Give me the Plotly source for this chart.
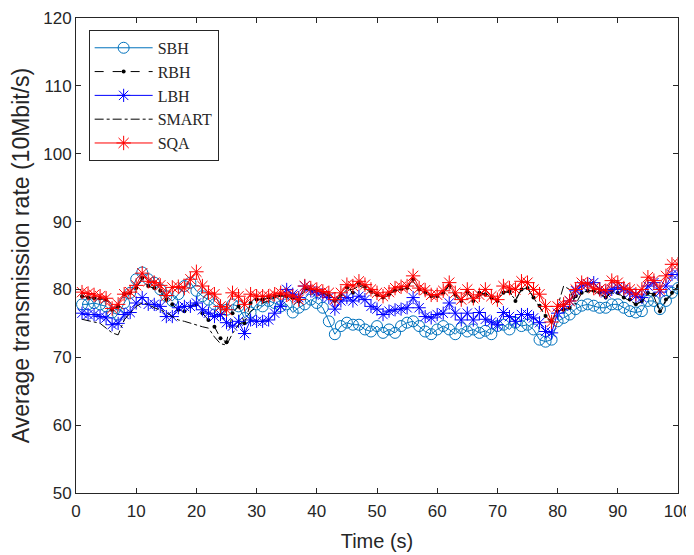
import plotly.graph_objects as go

t = list(range(1, 101))

sbh = [77.8, 77.8, 78.0, 77.8, 77.5, 76.6, 76.3, 78.0, 79.5, 81.5,
       82.5, 81.5, 81.0, 80.0, 79.0, 78.3, 79.3, 80.5, 81.0, 79.8,
       79.0, 78.5, 77.8, 77.0, 77.0, 77.8, 77.5, 75.8, 76.6, 77.8,
       77.5, 78.3, 78.0, 77.5, 77.8, 76.6, 77.3, 77.8, 78.5, 78.0,
       77.3, 75.3, 73.4, 74.6, 75.1, 74.8, 74.8, 74.1, 73.8, 74.6,
       73.6, 74.1, 73.6, 74.6, 75.1, 75.3, 74.6, 73.8, 73.4, 74.1,
       74.6, 74.1, 73.4, 74.3, 73.8, 74.1, 73.6, 73.9, 73.4, 74.6,
       74.8, 74.1, 75.1, 74.6, 74.8, 74.1, 72.6, 72.3, 72.6, 75.3,
       75.8, 76.3, 77.1, 77.6, 77.8, 77.6, 77.3, 77.3, 77.8, 77.8,
       77.3, 76.8, 76.6, 76.8, 78.3, 78.3, 77.1, 78.3, 79.5, 80.2]

rbh = [79.0, 78.8, 78.7, 78.7, 78.5, 77.0, 77.5, 79.3, 79.5, 80.2,
       81.7, 80.5, 80.2, 79.8, 78.5, 77.8, 77.0, 76.8, 77.5, 77.8,
       76.5, 75.5, 74.5, 72.8, 72.2, 76.5, 77.5, 75.0, 78.0, 78.5,
       78.5, 78.8, 79.0, 79.2, 79.0, 78.8, 78.3, 80.2, 80.0, 79.8,
       79.5, 79.2, 78.3, 79.2, 80.3, 79.5, 80.8, 80.4, 79.7, 79.2,
       78.8, 79.3, 79.9, 80.1, 80.2, 81.5, 80.0, 79.6, 79.0, 79.0,
       79.5, 80.6, 79.2, 78.3, 79.7, 78.3, 79.5, 79.3, 78.8, 78.3,
       79.5, 79.7, 78.3, 80.0, 80.2, 78.8, 77.6, 76.1, 75.3, 76.8,
       77.0, 77.3, 79.0, 79.5, 79.8, 79.8, 79.5, 78.8, 79.8, 79.5,
       78.8, 78.5, 77.8, 78.3, 79.5, 79.3, 76.8, 78.5, 79.5, 80.5]

lbh = [76.5, 76.3, 76.3, 76.0, 75.8, 74.8, 75.0, 76.3, 76.6, 78.0,
       78.8, 77.8, 77.8, 77.5, 76.0, 76.0, 77.3, 77.5, 77.5, 78.0,
       77.0, 76.5, 76.0, 76.3, 75.1, 74.6, 75.3, 73.5, 75.5, 75.3,
       75.3, 75.5, 76.5, 77.5, 80.0, 79.3, 78.8, 80.5, 79.8, 79.5,
       79.2, 78.8, 77.1, 78.3, 78.8, 78.3, 79.0, 78.5, 77.5, 77.1,
       76.3, 76.8, 77.0, 77.1, 77.3, 78.8, 77.3, 76.0, 75.8, 76.3,
       76.5, 78.0, 76.5, 75.5, 76.5, 75.5, 76.6, 75.6, 75.2, 74.8,
       76.6, 76.0, 75.3, 76.3, 76.3, 75.8, 75.1, 73.8, 73.6, 76.5,
       77.5, 78.3, 79.8, 80.5, 80.8, 81.0, 80.0, 79.5, 80.0, 80.3,
       80.0, 79.5, 79.0, 78.8, 80.5, 81.0, 79.6, 80.5, 82.2, 82.2]

smart = [75.6, 75.4, 75.3, 75.0, 74.3, 73.6, 73.3, 75.5, 76.5, 77.5,
         78.0, 77.8, 77.3, 77.0, 76.6, 76.0, 75.5, 75.3, 75.0, 74.8,
         74.5, 74.3, 73.0, 72.0, 71.8, 73.5, 74.8, 75.3, 76.8, 77.3,
         78.0, 78.3, 78.8, 79.0, 79.0, 78.8, 78.3, 80.0, 80.0, 79.8,
         79.5, 79.0, 78.0, 79.0, 80.0, 80.0, 80.5, 80.2, 79.5, 79.0,
         78.7, 79.2, 79.8, 80.0, 80.2, 81.2, 80.0, 79.5, 79.0, 79.0,
         79.5, 80.5, 79.0, 78.3, 79.5, 78.5, 79.0, 79.5, 78.8, 78.2,
         79.8, 79.5, 78.5, 80.0, 80.2, 78.8, 77.5, 76.0, 75.0, 77.5,
         80.5, 80.0, 77.8, 79.5, 79.8, 79.8, 79.3, 78.8, 79.5, 79.3,
         78.8, 78.3, 77.8, 78.2, 79.3, 79.0, 76.5, 78.3, 79.3, 80.5]

sqa = [79.6, 79.4, 79.2, 79.0, 78.7, 77.2, 77.8, 79.3, 79.6, 80.6,
       82.4, 81.2, 81.0, 80.6, 79.1, 80.3, 80.4, 80.2, 81.5, 82.6,
       80.5, 79.5, 79.3, 77.5, 77.0, 79.5, 79.0, 77.8, 79.3, 79.0,
       79.0, 79.0, 79.3, 79.5, 79.2, 79.0, 78.5, 80.5, 80.2, 80.0,
       79.7, 79.5, 78.5, 79.5, 80.7, 80.5, 81.2, 80.7, 80.0, 79.5,
       79.0, 79.6, 80.2, 80.4, 80.5, 82.0, 80.2, 79.9, 79.2, 79.2,
       79.8, 81.0, 79.5, 78.5, 80.0, 78.7, 79.2, 80.0, 79.0, 78.5,
       80.5, 80.2, 80.0, 81.2, 81.0, 80.0, 79.3, 77.5, 75.2, 77.5,
       77.8, 78.3, 80.0, 81.0, 80.8, 80.2, 80.0, 79.8, 81.3, 81.0,
       80.2, 80.0, 79.3, 80.0, 81.8, 81.3, 80.0, 82.0, 83.7, 83.7]

x_ticks = [0, 10, 20, 30, 40, 50, 60, 70, 80, 90, 100]
y_ticks = [50, 60, 70, 80, 90, 100, 110, 120]

fig = go.Figure()
fig.add_trace(go.Scatter(
    x=t, y=sbh, name="SBH", mode="lines+markers",
    line=dict(color="#0072BD", width=1),
    marker=dict(symbol="circle-open", size=11, color="#0072BD",
                line=dict(width=1, color="#0072BD"))))
fig.add_trace(go.Scatter(
    x=t, y=rbh, name="RBH", mode="lines+markers",
    line=dict(color="black", width=1, dash="dash"),
    marker=dict(symbol="circle", size=4, color="black")))
fig.add_trace(go.Scatter(
    x=t, y=lbh, name="LBH", mode="lines+markers",
    line=dict(color="#0000FF", width=1),
    marker=dict(symbol="asterisk-open", size=11, color="#0000FF",
                line=dict(width=1, color="#0000FF"))))
fig.add_trace(go.Scatter(
    x=t, y=smart, name="SMART", mode="lines",
    line=dict(color="black", width=1, dash="dashdot")))
fig.add_trace(go.Scatter(
    x=t, y=sqa, name="SQA", mode="lines+markers",
    line=dict(color="#FF0000", width=1),
    marker=dict(symbol="asterisk-open", size=12, color="#FF0000",
                line=dict(width=1, color="#FF0000"))))

axis_common = dict(
    showline=True, linecolor="#262626", linewidth=1, mirror="ticks",
    ticks="inside", ticklen=5, tickcolor="#262626",
    showgrid=False, zeroline=False, automargin=False,
    tickfont=dict(family="Liberation Sans, Arial", size=17, color="#262626"),
)

# The page body adds an 8px offset, so the plot area is placed 8px up/left.
fig.update_layout(
    width=694, height=547,
    margin=dict(l=68, r=24, t=10, b=62),
    paper_bgcolor="white", plot_bgcolor="white",
    showlegend=True,
    legend=dict(
        x=0.021, y=0.975, xanchor="left", yanchor="top",
        bgcolor="white", bordercolor="#262626", borderwidth=1,
        font=dict(family="Liberation Serif, Times New Roman", size=16, color="#262626"),
        itemwidth=58, tracegroupgap=0,
    ),
    xaxis=dict(range=[0, 100], tickvals=x_ticks, ticktext=[str(v) for v in x_ticks],
               ticklabelstandoff=3,
               title=dict(text="Time (s)", standoff=13,
                          font=dict(family="Liberation Sans, Arial", size=20, color="#262626")),
               **axis_common),
    yaxis=dict(range=[50, 120], tickvals=y_ticks, ticktext=[str(v) for v in y_ticks],
               title=dict(text="Average transmission rate (10Mbit/s)", standoff=13,
                          font=dict(family="Liberation Sans, Arial", size=23, color="#262626")),
               **axis_common),
)

fig.write_html("out.html")
